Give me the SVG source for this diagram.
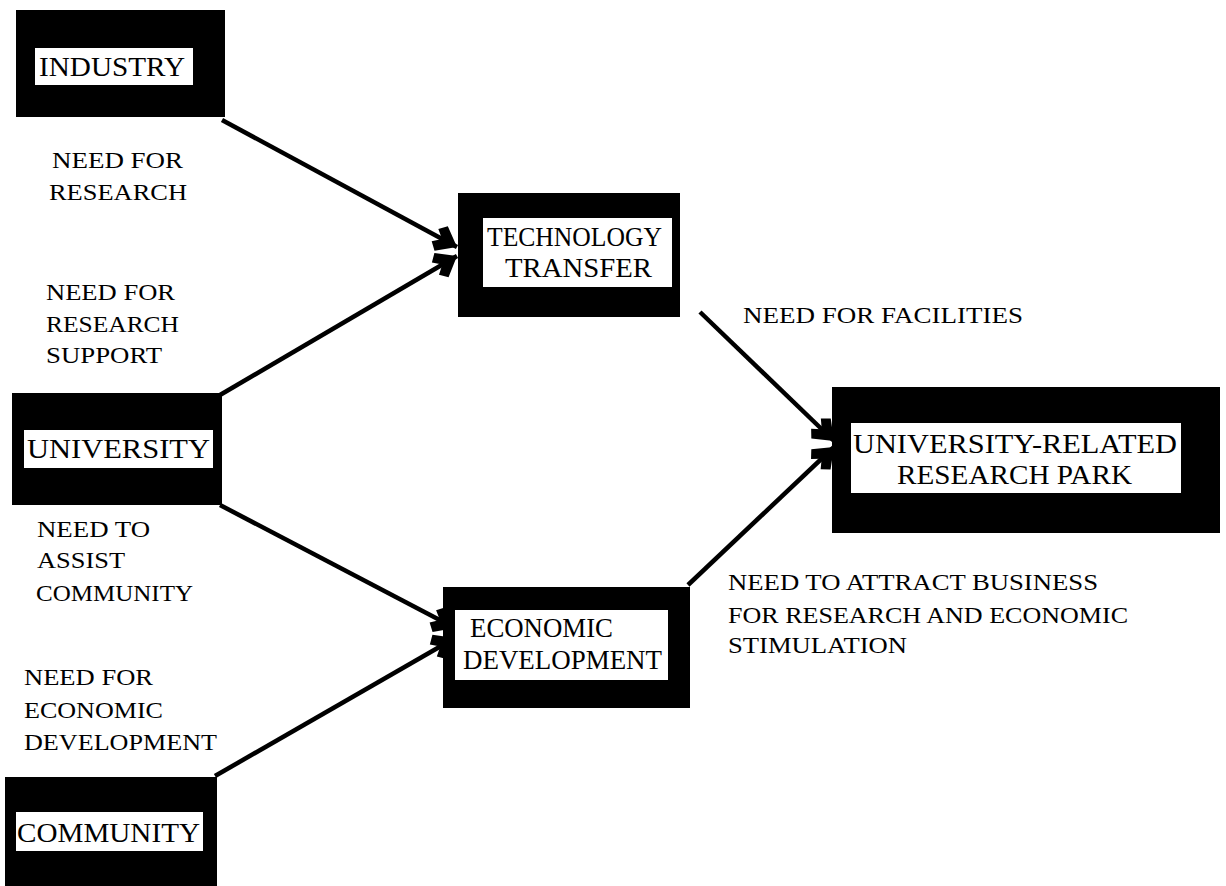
<svg xmlns="http://www.w3.org/2000/svg" width="1226" height="886" viewBox="0 0 1226 886">
  <style>
    .frame { fill: #000; }
    .panel { fill: #fff; }
    .name { font-family: "Liberation Serif", "Times New Roman", serif; font-size: 27px; fill: #000; }
    .note { font-family: "Liberation Serif", "Times New Roman", serif; font-size: 24px; fill: #000; }
    .link { stroke: #000; stroke-width: 4.5; fill: none; }
  </style>
  <defs>
    <marker id="head" markerUnits="userSpaceOnUse" markerWidth="34" markerHeight="34" viewBox="0 0 34 34" refX="30" refY="17" orient="auto">
      <path d="M30,17 L12,3 L5,10 L13,17 L5,24 L12,31 Z" fill="#000"/>
    </marker>
  </defs>
  <rect width="1226" height="886" fill="#fff"/>

  <g id="connectors">
    <line class="link" x1="222" y1="120" x2="457" y2="247" marker-end="url(#head)"/>
    <line class="link" x1="220" y1="395" x2="457" y2="256" marker-end="url(#head)"/>
    <line class="link" x1="220" y1="505" x2="455" y2="628" marker-end="url(#head)"/>
    <line class="link" x1="215" y1="776" x2="455" y2="638" marker-end="url(#head)"/>
    <line class="link" x1="700" y1="312" x2="834" y2="441" marker-end="url(#head)"/>
    <line class="link" x1="688" y1="585" x2="834" y2="447" marker-end="url(#head)"/>
  </g>

  <g id="industry">
    <rect class="frame" x="16" y="10" width="209" height="107"/>
    <rect class="panel" x="35" y="48" width="158" height="37"/>
    <text class="name" x="39" y="76" textLength="146" lengthAdjust="spacingAndGlyphs">INDUSTRY</text>
  </g>

  <g id="technology-transfer">
    <rect class="frame" x="458" y="193" width="222" height="124"/>
    <rect class="panel" x="483" y="218" width="189" height="69"/>
    <text class="name" x="487" y="246" textLength="175" lengthAdjust="spacingAndGlyphs">TECHNOLOGY</text>
    <text class="name" x="505" y="277" textLength="147" lengthAdjust="spacingAndGlyphs">TRANSFER</text>
  </g>

  <g id="university">
    <rect class="frame" x="12" y="393" width="210" height="112"/>
    <rect class="panel" x="24" y="430" width="189" height="38"/>
    <text class="name" x="27" y="458" textLength="183" lengthAdjust="spacingAndGlyphs">UNIVERSITY</text>
  </g>

  <g id="economic-development">
    <rect class="frame" x="443" y="587" width="247" height="121"/>
    <rect class="panel" x="455" y="610" width="213" height="70"/>
    <text class="name" x="470" y="637" textLength="143" lengthAdjust="spacingAndGlyphs">ECONOMIC</text>
    <text class="name" x="463" y="669" textLength="199" lengthAdjust="spacingAndGlyphs">DEVELOPMENT</text>
  </g>

  <g id="research-park">
    <rect class="frame" x="832" y="387" width="388" height="146"/>
    <rect class="panel" x="851" y="423" width="330" height="70"/>
    <text class="name" x="853" y="453" textLength="324" lengthAdjust="spacingAndGlyphs">UNIVERSITY-RELATED</text>
    <text class="name" x="897" y="484" textLength="235" lengthAdjust="spacingAndGlyphs">RESEARCH PARK</text>
  </g>

  <g id="community">
    <rect class="frame" x="5" y="777" width="212" height="109"/>
    <rect class="panel" x="16" y="812" width="187" height="39"/>
    <text class="name" x="17" y="842" textLength="183" lengthAdjust="spacingAndGlyphs">COMMUNITY</text>
  </g>

  <g id="labels">
    <text class="note" x="52" y="168" textLength="131" lengthAdjust="spacingAndGlyphs">NEED FOR</text>
    <text class="note" x="49" y="200" textLength="138" lengthAdjust="spacingAndGlyphs">RESEARCH</text>

    <text class="note" x="46" y="300" textLength="129" lengthAdjust="spacingAndGlyphs">NEED FOR</text>
    <text class="note" x="46" y="332" textLength="133" lengthAdjust="spacingAndGlyphs">RESEARCH</text>
    <text class="note" x="46" y="363" textLength="116" lengthAdjust="spacingAndGlyphs">SUPPORT</text>

    <text class="note" x="37" y="537" textLength="113" lengthAdjust="spacingAndGlyphs">NEED TO</text>
    <text class="note" x="37" y="568" textLength="88" lengthAdjust="spacingAndGlyphs">ASSIST</text>
    <text class="note" x="36" y="601" textLength="157" lengthAdjust="spacingAndGlyphs">COMMUNITY</text>

    <text class="note" x="24" y="685" textLength="129" lengthAdjust="spacingAndGlyphs">NEED FOR</text>
    <text class="note" x="24" y="718" textLength="139" lengthAdjust="spacingAndGlyphs">ECONOMIC</text>
    <text class="note" x="24" y="750" textLength="193" lengthAdjust="spacingAndGlyphs">DEVELOPMENT</text>

    <text class="note" x="743" y="323" textLength="280" lengthAdjust="spacingAndGlyphs">NEED FOR FACILITIES</text>

    <text class="note" x="728" y="590" textLength="370" lengthAdjust="spacingAndGlyphs">NEED TO ATTRACT BUSINESS</text>
    <text class="note" x="728" y="623" textLength="400" lengthAdjust="spacingAndGlyphs">FOR RESEARCH AND ECONOMIC</text>
    <text class="note" x="728" y="653" textLength="179" lengthAdjust="spacingAndGlyphs">STIMULATION</text>
  </g>
</svg>
